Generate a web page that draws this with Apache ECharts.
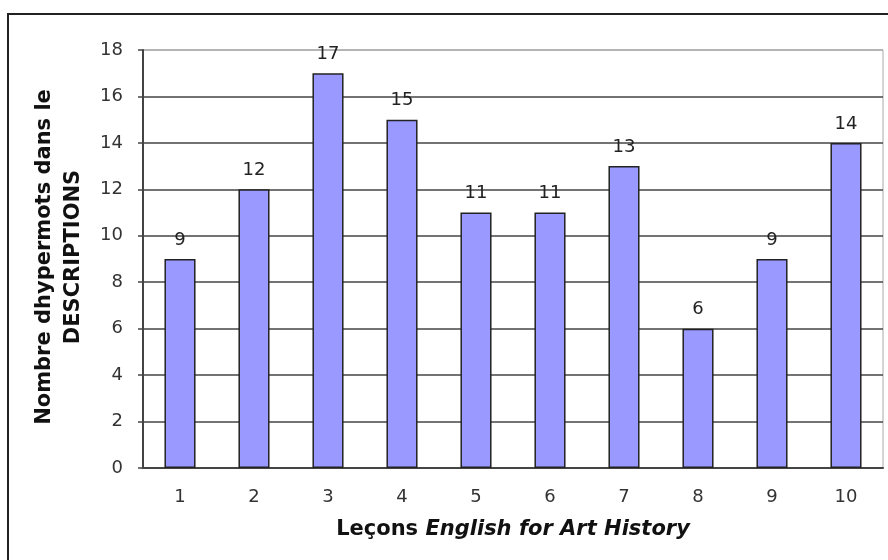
<!DOCTYPE html>
<html>
<head>
<meta charset="utf-8">
<script src="https://cdn.jsdelivr.net/npm/echarts@6/dist/echarts.min.js"></script>
<style>
  html, body { margin: 0; padding: 0; background: #fff; }
  #chart { width: 888px; height: 560px; }
</style>
</head>
<body>
<div id="chart"></div>
<script>
// lessons and count of hyperwords per lesson
const lessons = ["1", "2", "3", "4", "5", "6", "7", "8", "9", "10"];
const hyperwords = [9, 12, 17, 15, 11, 11, 13, 6, 9, 14];
const yMin = 0;
const yMax = 18;
const yStep = 2;

const font = "DejaVu Sans";
const chart = echarts.init(document.getElementById("chart"));

chart.setOption({
  animation: false,
  backgroundColor: "#fff",
  grid: {
    left: 143,
    right: 5,
    top: 50,
    bottom: 92,
    show: true,
    borderColor: "#aaa",
    borderWidth: 1,
  },
  xAxis: {
    type: "category",
    data: lessons,
    axisLine: { lineStyle: { color: "#444", width: 2 } },
    axisTick: { alignWithLabel: false, length: 5, lineStyle: { color: "#444", width: 1.5 } },
    axisLabel: { color: "#333", fontFamily: font, fontSize: 18, margin: 20 },
    name: "{a|Leçons }{b|English for Art History}",
    nameLocation: "middle",
    nameGap: 51,
    nameTextStyle: {
      rich: {
        a: { fontFamily: font, fontWeight: "bold", fontSize: 21, color: "#111" },
        b: { fontFamily: font, fontWeight: "bold", fontStyle: "italic", fontSize: 21, color: "#111" },
      },
    },
  },
  yAxis: {
    type: "value",
    min: yMin,
    max: yMax,
    interval: yStep,
    axisLine: { show: true, lineStyle: { color: "#444", width: 2 } },
    axisTick: { show: true, length: 5, lineStyle: { color: "#444", width: 1.5 } },
    axisLabel: { color: "#333", fontFamily: font, fontSize: 18, margin: 20 },
    splitLine: {
      lineStyle: {
        color: ["#444", "#444", "#444", "#444", "#444", "#444", "#444", "#444", "#444", "#aaa"],
        width: 1.5,
      },
    },
  },
  graphic: [
    {
      type: "rect",
      silent: true,
      shape: { x: 8, y: 14, width: 1000, height: 1000 },
      style: { fill: "none", stroke: "#222", lineWidth: 2 },
    },
    {
      type: "text",
      silent: true,
      x: 59,
      y: 257,
      rotation: Math.PI / 2,
      style: {
        text: "Nombre dhypermots dans le\nDESCRIPTIONS",
        fontFamily: font,
        fontWeight: "bold",
        fontSize: 21,
        lineHeight: 29,
        fill: "#111",
        align: "center",
        verticalAlign: "middle",
      },
    },
  ],
  series: [
    {
      type: "bar",
      data: hyperwords,
      barWidth: "42%",
      itemStyle: { color: "#9999ff", borderColor: "#222", borderWidth: 1.5 },
      label: {
        show: true,
        position: "top",
        distance: 10,
        color: "#222",
        fontFamily: font,
        fontSize: 18,
      },
    },
  ],
});
</script>
</body>
</html>
